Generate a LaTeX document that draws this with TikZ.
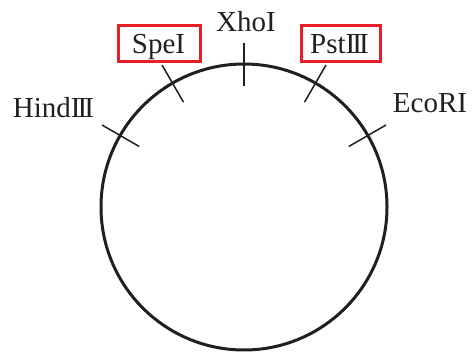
\documentclass[tikz,border=0pt]{standalone}
\usepackage{fontspec}
\setmainfont{Liberation Serif}
\definecolor{boxred}{RGB}{232,30,38}
\definecolor{ink}{RGB}{35,31,32}
\newcommand\romthree{I\kern-0.1em I\kern-0.1em I}
\begin{document}
\begin{tikzpicture}[x=1pt,y=1pt,
  lbl/.style={text=ink,inner sep=0pt,anchor=base,font=\fontsize{29}{34}\selectfont},
  redbox/.style={draw=boxred,line width=3pt,inner sep=0pt},
  tickline/.style={draw=ink,line width=1.5pt},
  ring/.style={draw=ink,line width=3pt}]
\useasboundingbox (0,0) rectangle (476,352);
\coordinate (c) at (244,145);
\draw[ring] (c) circle[radius=143];
% ticks
\foreach \a/\n in {90/xho,120/spe,60/pst,150/hind,30/eco}{
  \draw[tickline] (c) ++(\a:121) coordinate (t\n in) -- ++(\a:43) coordinate (t\n out);
}
% boxes
\node[redbox,minimum width=82pt,minimum height=36pt] (spebox) at (159.5,308.5) {};
\node[redbox,minimum width=79pt,minimum height=36pt] (pstbox) at (341,308.5) {};
% labels
\node[lbl] (xho) at (246,320) {XhoI};
\node[lbl] (spe) at (158.5,298) {SpeI};
\node[lbl] (pst) at (339.5,298) {Pst\romthree};
\node[lbl] (hind) at (53.5,234) {Hind\romthree};
\node[lbl] (eco) at (430,239) {EcoRI};
\end{tikzpicture}
\end{document}
